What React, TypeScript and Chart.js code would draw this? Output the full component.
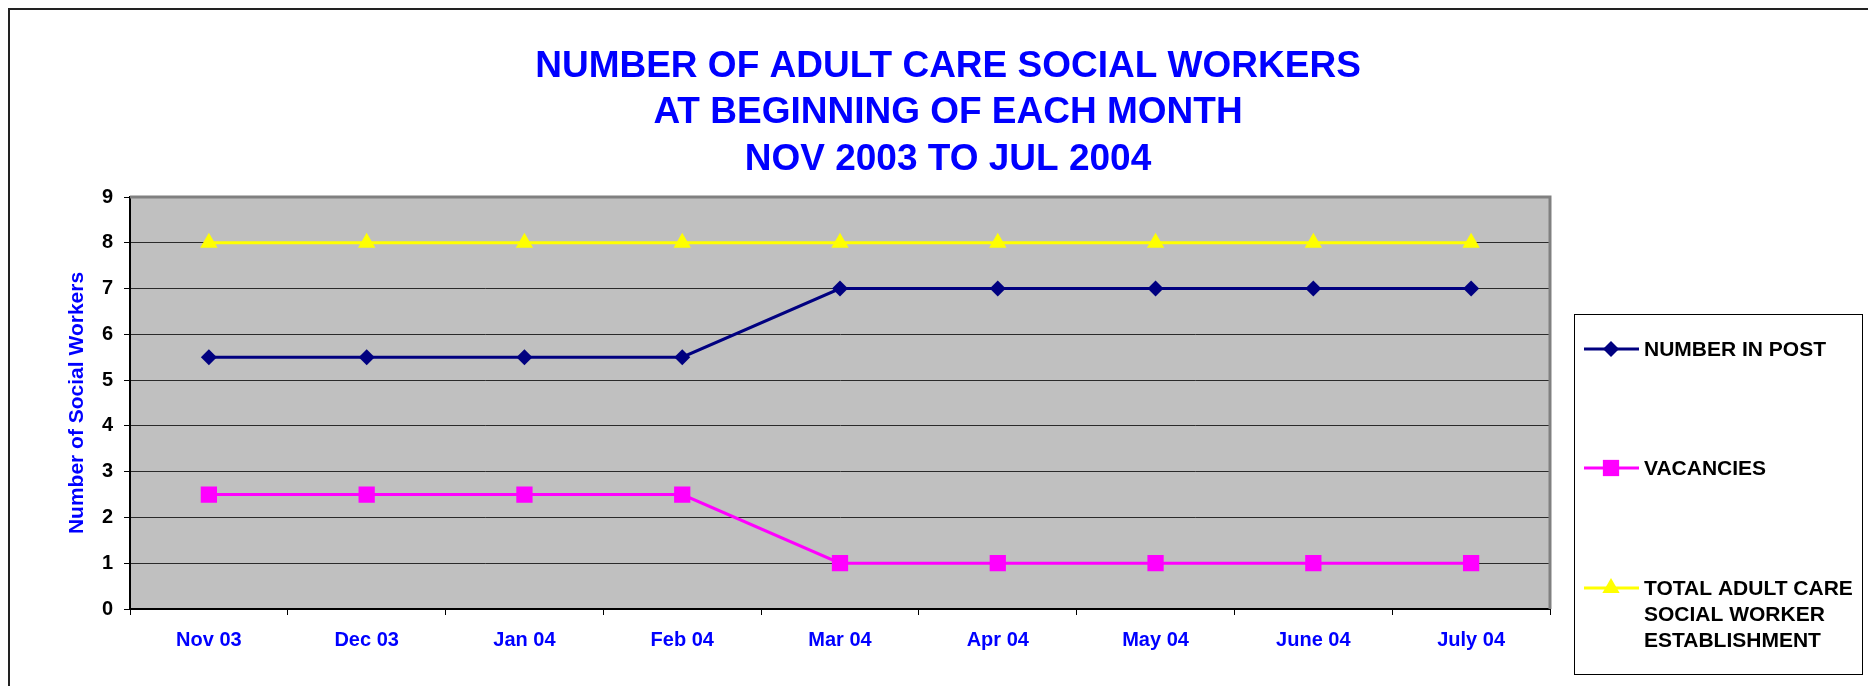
import React, { useEffect, useRef } from "react";
import { Chart, registerables } from "chart.js";

Chart.register(...registerables);

const categories = ["Nov 03", "Dec 03", "Jan 04", "Feb 04", "Mar 04", "Apr 04", "May 04", "June 04", "July 04"];
const numberInPost = [5.5, 5.5, 5.5, 5.5, 7, 7, 7, 7, 7];
const vacancies = [2.5, 2.5, 2.5, 2.5, 1, 1, 1, 1, 1];
const totalEstablishment = [8, 8, 8, 8, 8, 8, 8, 8, 8];
const yTicks = [0, 1, 2, 3, 4, 5, 6, 7, 8, 9];
const titleLines = ["NUMBER OF ADULT CARE SOCIAL WORKERS", "AT BEGINNING OF EACH MONTH", "NOV 2003 TO JUL 2004"];
const seriesNames = ["NUMBER IN POST", "VACANCIES", "TOTAL ADULT CARE SOCIAL WORKER ESTABLISHMENT"];
const legendLines = [["NUMBER IN POST"], ["VACANCIES"], ["TOTAL ADULT CARE", "SOCIAL WORKER", "ESTABLISHMENT"]];
const yAxisTitle = "Number of Social Workers";

const FONT = '"Liberation Sans", Arial, Helvetica, sans-serif';
const W = 1866;
const H = 676;

function drawMarker(ctx: CanvasRenderingContext2D, style: string, x: number, y: number, r: number, color: string) {
  ctx.save();
  ctx.fillStyle = color;
  ctx.beginPath();
  if (style === "rectRot") {
    ctx.moveTo(x - r, y);
    ctx.lineTo(x, y - r);
    ctx.lineTo(x + r, y);
    ctx.lineTo(x, y + r);
  } else if (style === "rect") {
    const s = r * Math.SQRT1_2;
    ctx.rect(x - s, y - s, 2 * s, 2 * s);
  } else {
    ctx.moveTo(x, y - r);
    ctx.lineTo(x + r * Math.sin(Math.PI / 3), y + r / 2);
    ctx.lineTo(x - r * Math.sin(Math.PI / 3), y + r / 2);
  }
  ctx.closePath();
  ctx.fill();
  ctx.restore();
}

const decorPlugin = {
  id: "decor",
  beforeDraw(chart: any) {
    const { ctx, chartArea: a } = chart;
    ctx.save();
    ctx.fillStyle = "#C0C0C0";
    ctx.fillRect(a.left, a.top, a.right - a.left, a.bottom - a.top);
    ctx.restore();
  },
  beforeDatasetsDraw(chart: any) {
    const { ctx, chartArea: a } = chart;
    ctx.save();
    ctx.strokeStyle = "#808080";
    ctx.lineWidth = 3;
    ctx.beginPath();
    ctx.moveTo(a.left, a.top);
    ctx.lineTo(a.right, a.top);
    ctx.lineTo(a.right, a.bottom);
    ctx.stroke();
    ctx.restore();
  },
  afterDraw(chart: any) {
    const { ctx } = chart;
    ctx.save();
    // title
    ctx.fillStyle = "#0000FF";
    ctx.font = `bold 37px ${FONT}`;
    ctx.textAlign = "center";
    ctx.textBaseline = "middle";
    const titleY = [57, 103, 150];
    titleLines.forEach((t, i) => ctx.fillText(t, 938, titleY[i]));

    // legend box
    ctx.strokeStyle = "#000";
    ctx.lineWidth = 1;
    ctx.strokeRect(1564.5, 304.5, 288, 360);
    const ys = [339, 458, 578];
    ctx.font = `bold 21px ${FONT}`;
    ctx.textAlign = "left";
    chart.data.datasets.forEach((ds: any, i: number) => {
      const y = ys[i];
      ctx.strokeStyle = ds.borderColor;
      ctx.lineWidth = ds.borderWidth;
      ctx.beginPath();
      ctx.moveTo(1574, y);
      ctx.lineTo(1629, y);
      ctx.stroke();
      drawMarker(ctx, ds.pointStyle, 1601, y, ds.pointRadius, ds.pointBackgroundColor);
      ctx.fillStyle = "#000";
      legendLines[i].forEach((line, j) => ctx.fillText(line, 1634, y + 1 + j * 26));
    });
    ctx.restore();
  },
};

export default function App() {
  const ref = useRef<HTMLCanvasElement | null>(null);
  useEffect(() => {
    document.body.style.overflow = "hidden";
    if (!ref.current) return;
    const chart = new Chart(ref.current, {
      type: "line",
      data: {
        labels: categories,
        datasets: [
          {
            label: seriesNames[0],
            data: numberInPost,
            borderColor: "#000080",
            backgroundColor: "#000080",
            pointBackgroundColor: "#000080",
            pointBorderColor: "#000080",
            borderWidth: 3,
            pointStyle: "rectRot",
            pointRadius: 8,
            pointBorderWidth: 0,
          },
          {
            label: seriesNames[1],
            data: vacancies,
            borderColor: "#FF00FF",
            backgroundColor: "#FF00FF",
            pointBackgroundColor: "#FF00FF",
            pointBorderColor: "#FF00FF",
            borderWidth: 3,
            pointStyle: "rect",
            pointRadius: 11.5,
            pointBorderWidth: 0,
          },
          {
            label: seriesNames[2],
            data: totalEstablishment,
            borderColor: "#FFFF00",
            backgroundColor: "#FFFF00",
            pointBackgroundColor: "#FFFF00",
            pointBorderColor: "#FFFF00",
            borderWidth: 3,
            pointStyle: "triangle",
            pointRadius: 10,
            pointBorderWidth: 0,
          },
        ] as any,
      },
      options: {
        responsive: false,
        animation: false,
        layout: { padding: { top: 187, right: 326, left: 0, bottom: 0 } },
        plugins: {
          legend: { display: false },
          title: { display: false },
          tooltip: { enabled: false },
        },
        scales: {
          x: {
            type: "category",
            offset: true,
            afterFit: (s: any) => {
              s.height = 77;
            },
            grid: {
              display: true,
              offset: true,
              drawOnChartArea: false,
              drawTicks: true,
              tickLength: 6,
              tickColor: "#000",
              color: "#000",
            },
            border: { display: true, color: "#000", width: 2 },
            ticks: {
              color: "#0000FF",
              font: { family: FONT, size: 20, weight: "bold" },
              padding: 13,
              maxRotation: 0,
              autoSkip: false,
            },
          },
          y: {
            min: 0,
            max: 9,
            afterFit: (s: any) => {
              s.width = 120;
            },
            afterBuildTicks: (s: any) => {
              s.ticks = yTicks.map((v) => ({ value: v }));
            },
            grid: {
              color: "#2a2a2a",
              lineWidth: 1,
              drawTicks: true,
              tickLength: 6,
              tickColor: "#000",
            },
            border: { display: true, color: "#000", width: 2 },
            ticks: {
              color: "#000",
              font: { family: FONT, size: 20, weight: "bold" },
              padding: 11,
            },
            title: {
              display: true,
              text: yAxisTitle,
              color: "#0000FF",
              font: { family: FONT, size: 21, weight: "bold" },
              padding: { top: 55, bottom: 0 },
            },
          },
        },
      },
      plugins: [decorPlugin],
    } as any);
    return () => chart.destroy();
  }, []);
  return (
    <div
      style={{
        width: 1870,
        height: 680,
        borderLeft: "2px solid #222",
        borderTop: "2px solid #222",
        boxSizing: "border-box",
        background: "#fff",
      }}
    >
      <canvas ref={ref} width={W} height={H} style={{ display: "block", width: W, height: H }} />
    </div>
  );
}
